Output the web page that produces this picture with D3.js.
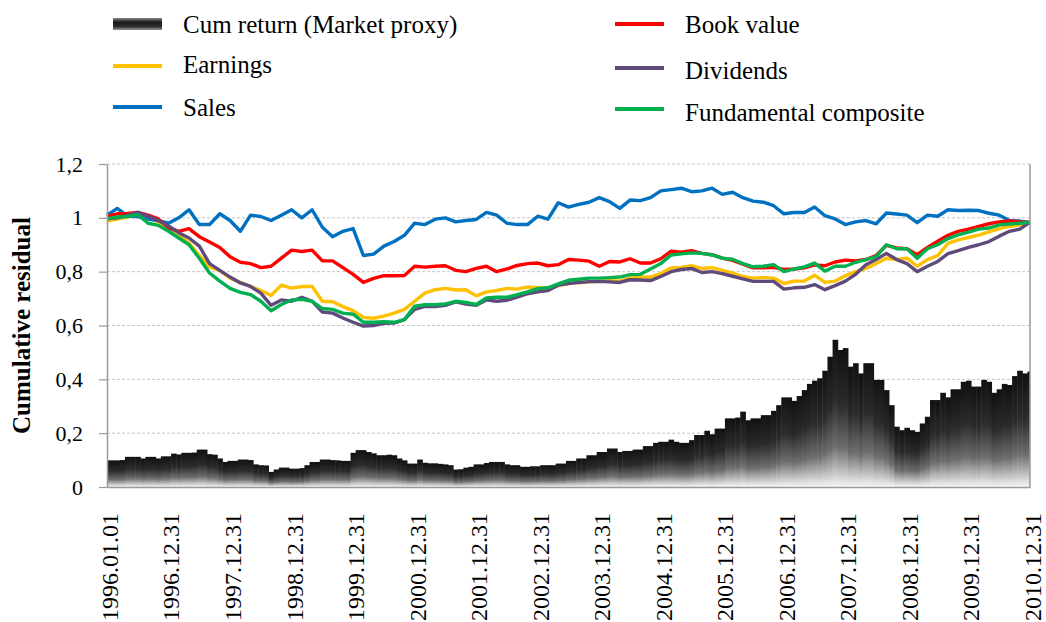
<!DOCTYPE html>
<html>
<head>
<meta charset="utf-8">
<script src="https://cdn.jsdelivr.net/npm/d3@7"></script>
<style>
  body { margin: 0; background: #fff; }
  svg { display: block; }
  svg text { font-family: "Liberation Serif", "Times New Roman", serif; }
</style>
</head>
<body>
<div id="chart"></div>
<script>
// month index 0 = 1996.01.01, then one point per month end up to 2010.12.31 (180)
var tickMonths = [0, 12, 24, 36, 48, 60, 72, 84, 96, 108, 120, 132, 144, 156, 168, 180];
var tickLabels = ['1996.01.01', '1996.12.31', '1997.12.31', '1998.12.31', '1999.12.31',
  '2000.12.31', '2001.12.31', '2002.12.31', '2003.12.31', '2004.12.31', '2005.12.31',
  '2006.12.31', '2007.12.31', '2008.12.31', '2009.12.31', '2010.12.31'];

// cumulative market return, monthly (bars)
var marketProxy = [
  0.099, 0.099, 0.099, 0.1, 0.112, 0.112, 0.112, 0.106, 0.112, 0.112,
  0.106, 0.114, 0.114, 0.124, 0.121, 0.127, 0.127, 0.128, 0.139, 0.139,
  0.122, 0.12, 0.106, 0.093, 0.097, 0.097, 0.102, 0.102, 0.1, 0.084,
  0.081, 0.08, 0.056, 0.065, 0.072, 0.072, 0.068, 0.068, 0.07, 0.081,
  0.093, 0.093, 0.102, 0.102, 0.1, 0.099, 0.097, 0.097, 0.127, 0.137,
  0.137, 0.13, 0.125, 0.118, 0.118, 0.12, 0.118, 0.106, 0.099, 0.087,
  0.087, 0.102, 0.09, 0.088, 0.088, 0.086, 0.084, 0.081, 0.065, 0.066,
  0.072, 0.075, 0.084, 0.084, 0.089, 0.093, 0.093, 0.093, 0.084, 0.081,
  0.081, 0.075, 0.075, 0.077, 0.077, 0.081, 0.081, 0.081, 0.087, 0.087,
  0.097, 0.097, 0.106, 0.106, 0.118, 0.118, 0.13, 0.13, 0.143, 0.143,
  0.13, 0.134, 0.134, 0.139, 0.139, 0.152, 0.152, 0.164, 0.168, 0.168,
  0.176, 0.168, 0.164, 0.164, 0.174, 0.193, 0.193, 0.209, 0.196, 0.217,
  0.217, 0.255, 0.255, 0.258, 0.28, 0.248, 0.255, 0.255, 0.267, 0.267,
  0.283, 0.304, 0.333, 0.333, 0.32, 0.338, 0.36, 0.383, 0.395, 0.404,
  0.432, 0.484, 0.547, 0.509, 0.516, 0.447, 0.46, 0.422, 0.46, 0.46,
  0.398, 0.398, 0.36, 0.304, 0.224, 0.211, 0.22, 0.211, 0.205, 0.236,
  0.261, 0.323, 0.323, 0.35, 0.333, 0.363, 0.363, 0.391, 0.395, 0.373,
  0.373, 0.398, 0.391, 0.35, 0.363, 0.383, 0.379, 0.412, 0.432, 0.422, 0.429
];

// cumulative residuals, read every second month (0, 2, 4, ... 180)
var earnings = [
  0.988, 0.995, 1.003, 1.015, 1.0, 0.985, 0.96, 0.935, 0.907, 0.86,
  0.818, 0.804, 0.776, 0.76, 0.745, 0.73, 0.712, 0.75, 0.739, 0.745,
  0.745, 0.69, 0.688, 0.67, 0.655, 0.63, 0.627, 0.635, 0.646, 0.66,
  0.69, 0.72, 0.733, 0.738, 0.732, 0.733, 0.71, 0.725, 0.73, 0.738,
  0.735, 0.743, 0.74, 0.74, 0.748, 0.756, 0.76, 0.762, 0.764, 0.766,
  0.765, 0.776, 0.78, 0.78, 0.793, 0.814, 0.816, 0.822, 0.812, 0.815,
  0.805, 0.795, 0.782, 0.776, 0.778, 0.776, 0.756, 0.765, 0.765, 0.787,
  0.76, 0.765, 0.785, 0.8, 0.812, 0.83, 0.85, 0.845, 0.85, 0.82,
  0.845, 0.86, 0.905, 0.918, 0.927, 0.936, 0.948, 0.96, 0.968, 0.974,
  0.983
];
var sales = [
  1.01, 1.035, 1.006, 1.005, 0.995, 0.99, 0.98, 1.0, 1.03, 0.975,
  0.975, 1.015, 0.99, 0.95, 1.01, 1.005, 0.99, 1.01, 1.03, 1.0,
  1.03, 0.965, 0.93, 0.95, 0.96, 0.86, 0.865, 0.895, 0.912, 0.935,
  0.98, 0.975, 0.995, 1.0, 0.985, 0.99, 0.994, 1.02, 1.01, 0.98,
  0.975, 0.975, 1.006, 0.995, 1.056, 1.04, 1.05, 1.058, 1.075, 1.06,
  1.035, 1.066, 1.064, 1.075, 1.1, 1.105, 1.11, 1.097, 1.1, 1.11,
  1.087, 1.095, 1.075, 1.062, 1.058, 1.045, 1.015, 1.02, 1.02, 1.04,
  1.008, 0.996, 0.975, 0.985, 0.99, 0.978, 1.018, 1.014, 1.01, 0.982,
  1.01, 1.006, 1.03, 1.027, 1.028, 1.027, 1.017, 1.01, 0.99, 0.988,
  0.983
];
var bookValue = [
  1.005, 1.015, 1.016, 1.02, 1.01, 0.996, 0.963, 0.95, 0.96, 0.93,
  0.91, 0.89, 0.855, 0.835, 0.83, 0.815, 0.82, 0.85, 0.88, 0.875,
  0.88, 0.84, 0.84, 0.815, 0.79, 0.76, 0.775, 0.785, 0.785, 0.786,
  0.82, 0.817, 0.82, 0.822, 0.805, 0.8, 0.812, 0.82, 0.8, 0.81,
  0.823, 0.83, 0.832, 0.822, 0.826, 0.845, 0.843, 0.839, 0.82, 0.838,
  0.836, 0.848, 0.832, 0.832, 0.848, 0.876, 0.872, 0.878, 0.868, 0.863,
  0.85, 0.842, 0.828, 0.814, 0.814, 0.816, 0.808, 0.81, 0.814, 0.825,
  0.822, 0.836, 0.843, 0.84, 0.845, 0.86, 0.898, 0.888, 0.885, 0.863,
  0.89, 0.913, 0.935, 0.95, 0.958, 0.968, 0.978, 0.985, 0.988, 0.985,
  0.983
];
var dividends = [
  0.996, 1.0, 1.01, 1.02, 1.006, 0.99, 0.97, 0.945, 0.925, 0.895,
  0.83, 0.805, 0.78, 0.758, 0.745, 0.72, 0.675, 0.695, 0.69, 0.705,
  0.69, 0.65, 0.646, 0.628, 0.612, 0.598, 0.6, 0.608, 0.609, 0.622,
  0.66, 0.671, 0.67, 0.675, 0.688, 0.68, 0.675, 0.695, 0.69, 0.694,
  0.705, 0.718, 0.725, 0.73, 0.75, 0.756, 0.76, 0.763, 0.764, 0.762,
  0.76, 0.77, 0.769, 0.767, 0.782, 0.8, 0.808, 0.812, 0.797, 0.8,
  0.793, 0.783, 0.773, 0.764, 0.764, 0.764, 0.735, 0.74, 0.742, 0.752,
  0.733, 0.748, 0.765, 0.79, 0.826, 0.845, 0.868, 0.845, 0.83, 0.8,
  0.82, 0.838, 0.867, 0.878, 0.89, 0.9, 0.912, 0.932, 0.95, 0.958,
  0.983
];
var composite = [
  0.996, 1.003, 1.005, 1.012, 0.98, 0.972, 0.95, 0.925, 0.9, 0.85,
  0.795, 0.765, 0.738, 0.723, 0.715, 0.69, 0.655, 0.678, 0.695, 0.697,
  0.69, 0.663, 0.66, 0.646, 0.642, 0.612, 0.612, 0.614, 0.612, 0.622,
  0.672, 0.677, 0.677, 0.68, 0.69, 0.686, 0.678, 0.702, 0.705, 0.705,
  0.715, 0.725, 0.737, 0.74, 0.755, 0.768, 0.772, 0.776, 0.776, 0.778,
  0.78, 0.789, 0.79, 0.81, 0.83, 0.862, 0.866, 0.87, 0.868, 0.862,
  0.85, 0.846, 0.83, 0.818, 0.82, 0.826, 0.8, 0.81, 0.818, 0.832,
  0.802, 0.82, 0.82, 0.835, 0.845, 0.856, 0.9, 0.885, 0.885, 0.85,
  0.885, 0.9, 0.923, 0.937, 0.947, 0.958, 0.962, 0.974, 0.977, 0.98,
  0.983
];

var seriesNames = ['Earnings', 'Sales', 'Book value', 'Dividends', 'Fundamental composite'];
var seriesColors = ['#FFC000', '#0070C0', '#FF0000', '#604A7B', '#00B050'];
var seriesValues = [earnings, sales, bookValue, dividends, composite];

var serif = '"Liberation Serif", "Times New Roman", serif';
var width = 1046, height = 622;
var plotLeft = 107, plotRight = 1030, plotTop = 164, plotBottom = 487;

var svg = d3.select('#chart').append('svg')
  .attr('width', width)
  .attr('height', height);

var defs = svg.append('defs');
var grad = defs.append('linearGradient')
  .attr('id', 'barGrad')
  .attr('x1', 0).attr('y1', 0).attr('x2', 0).attr('y2', 1);
grad.append('stop').attr('offset', '0%').attr('stop-color', '#111');
grad.append('stop').attr('offset', '40%').attr('stop-color', '#2b2b2b');
grad.append('stop').attr('offset', '72%').attr('stop-color', '#6e6e6e');
grad.append('stop').attr('offset', '100%').attr('stop-color', '#f6f6f6');

var swatchGrad = defs.append('linearGradient')
  .attr('id', 'swatchGrad')
  .attr('x1', 0).attr('y1', 0).attr('x2', 0).attr('y2', 1);
swatchGrad.append('stop').attr('offset', '0%').attr('stop-color', '#888');
swatchGrad.append('stop').attr('offset', '35%').attr('stop-color', '#1a1a1a');
swatchGrad.append('stop').attr('offset', '70%').attr('stop-color', '#2a2a2a');
swatchGrad.append('stop').attr('offset', '100%').attr('stop-color', '#999');

defs.append('clipPath').attr('id', 'plotClip')
  .append('rect')
  .attr('x', plotLeft).attr('y', plotTop - 10)
  .attr('width', plotRight - plotLeft).attr('height', plotBottom - plotTop + 10);

var x = d3.scaleLinear().domain([0, 180]).range([plotLeft, plotRight]);
var y = d3.scaleLinear().domain([0, 1.2]).range([plotBottom, plotTop]);
var step = x(1) - x(0);

// grid
svg.append('g')
  .selectAll('line')
  .data([0.2, 0.4, 0.6, 0.8, 1.0, 1.2])
  .enter().append('line')
  .attr('x1', plotLeft).attr('x2', plotRight)
  .attr('y1', function(d) { return y(d); })
  .attr('y2', function(d) { return y(d); })
  .attr('stroke', '#c4c4c4')
  .attr('stroke-width', 1)
  .attr('stroke-dasharray', '3,2');

// market proxy bars
svg.append('g')
  .attr('clip-path', 'url(#plotClip)')
  .selectAll('rect')
  .data(marketProxy)
  .enter().append('rect')
  .attr('x', function(d, i) { return x(i) - step / 2; })
  .attr('width', step + 0.5)
  .attr('y', function(d) { return y(d); })
  .attr('height', function(d) { return plotBottom - y(d); })
  .attr('fill', 'url(#barGrad)');

// lines
var line = d3.line()
  .x(function(d, i) { return x(i * 2); })
  .y(function(d) { return y(d); });

svg.append('g')
  .selectAll('path')
  .data(seriesValues)
  .enter().append('path')
  .attr('d', line)
  .attr('fill', 'none')
  .attr('stroke', function(d, i) { return seriesColors[i]; })
  .attr('stroke-width', 3.4)
  .attr('stroke-linejoin', 'round');

// axes
var yAxis = d3.axisLeft(y)
  .tickValues([0, 0.2, 0.4, 0.6, 0.8, 1.0, 1.2])
  .tickSizeInner(8)
  .tickSizeOuter(0)
  .tickPadding(16)
  .tickFormat(function(d) { return d3.format('~g')(d).replace('.', ','); });

var gy = svg.append('g')
  .attr('transform', 'translate(' + plotLeft + ',0)')
  .call(yAxis);
gy.select('.domain').attr('stroke', '#9a9a9a').attr('stroke-width', 1.5);
gy.selectAll('.tick line').attr('stroke', '#9a9a9a').attr('stroke-width', 1.2);
gy.selectAll('.tick text')
  .style('font-family', serif)
  .style('font-size', '22px')
  .attr('fill', '#000');

var xAxis = d3.axisBottom(x)
  .tickValues(tickMonths)
  .tickSize(0)
  .tickFormat(function(d, i) { return tickLabels[i]; });

var gx = svg.append('g')
  .attr('transform', 'translate(0,' + plotBottom + ')')
  .call(xAxis);
gx.select('.domain').attr('stroke', '#9a9a9a').attr('stroke-width', 1.5);
gx.selectAll('.tick text')
  .style('font-family', serif)
  .style('font-size', '24px')
  .attr('fill', '#000')
  .attr('text-anchor', 'end')
  .attr('transform', 'translate(2,26) rotate(-90)')
  .attr('x', 0)
  .attr('y', 0)
  .attr('dy', '0.35em');

svg.append('line')
  .attr('x1', plotRight).attr('x2', plotRight)
  .attr('y1', plotTop).attr('y2', plotBottom)
  .attr('stroke', '#9a9a9a').attr('stroke-width', 1.5);

svg.append('text')
  .attr('transform', 'translate(30,' + (plotTop + plotBottom) / 2 + ') rotate(-90)')
  .attr('text-anchor', 'middle')
  .style('font-family', serif)
  .style('font-size', '25px')
  .style('font-weight', 'bold')
  .text('Cumulative residual');

// legend
var legendItems = [
  { name: 'Cum return (Market proxy)', bar: true, x: 113, y: 24, dy: 0 },
  { name: seriesNames[0], color: seriesColors[0], x: 113, y: 66, dy: -2 },
  { name: seriesNames[1], color: seriesColors[1], x: 113, y: 107, dy: 0 },
  { name: seriesNames[2], color: seriesColors[2], x: 615, y: 24, dy: 0 },
  { name: seriesNames[3], color: seriesColors[3], x: 615, y: 68, dy: 2 },
  { name: seriesNames[4], color: seriesColors[4], x: 615, y: 109, dy: 3 }
];

var lg = svg.append('g').selectAll('g')
  .data(legendItems)
  .enter().append('g')
  .attr('transform', function(d) { return 'translate(' + d.x + ',' + d.y + ')'; });

lg.filter(function(d) { return d.bar; })
  .append('rect')
  .attr('x', 0).attr('y', -6)
  .attr('width', 49).attr('height', 12)
  .attr('fill', 'url(#swatchGrad)');

lg.filter(function(d) { return !d.bar; })
  .append('line')
  .attr('x1', 0).attr('x2', 49)
  .attr('stroke', function(d) { return d.color; })
  .attr('stroke-width', 4);

lg.append('text')
  .attr('x', 70)
  .attr('y', function(d) { return d.dy; })
  .attr('dy', '0.35em')
  .style('font-family', serif)
  .style('font-size', '25px')
  .text(function(d) { return d.name; });
</script>
</body>
</html>
